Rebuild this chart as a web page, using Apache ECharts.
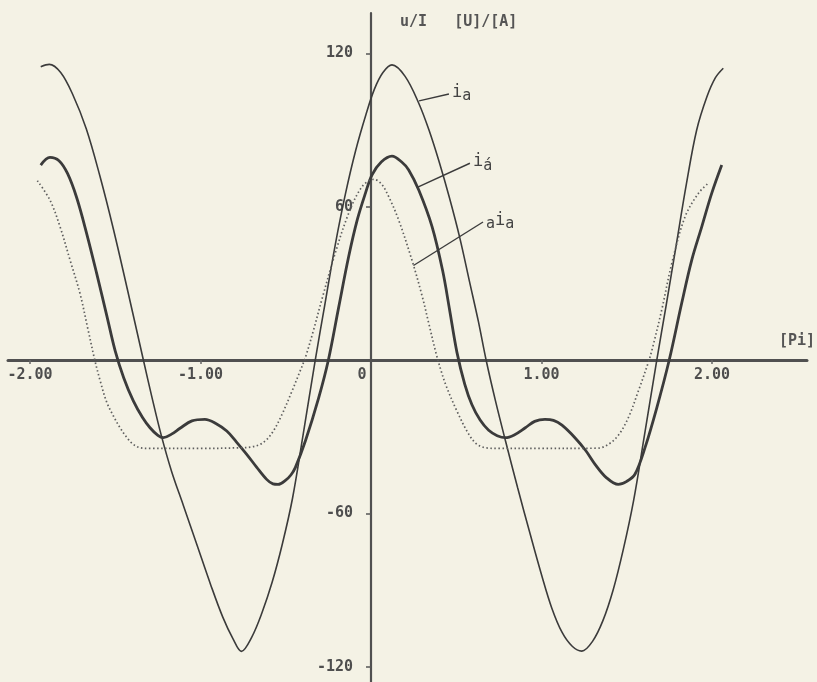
<!DOCTYPE html>
<html>
<head>
<meta charset="utf-8">
<script src="https://cdn.jsdelivr.net/npm/echarts@6/dist/echarts.min.js"></script>
<style>
html, body { margin: 0; padding: 0; background: #f4f2e5; }
#chart { width: 817px; height: 682px; }
</style>
</head>
<body>
<div id="chart"></div>
<script>
// i_a  (thin solid)
var iaX = [-1.937, -1.887, -1.82, -1.75, -1.67, -1.59, -1.51, -1.43, -1.335, -1.285, -1.23, -1.17, -1.10, -1.02, -0.94,
  -0.87, -0.81, -0.76, -0.70, -0.64, -0.58, -0.52, -0.46, -0.40, -0.327, -0.27, -0.21, -0.15, -0.09, -0.03, 0.02, 0.07,
  0.123, 0.20, 0.28, 0.34, 0.40, 0.46, 0.52, 0.58, 0.63, 0.675, 0.73, 0.79, 0.86, 0.935, 1.0, 1.06, 1.12, 1.18, 1.236,
  1.30, 1.36, 1.42, 1.48, 1.54, 1.60, 1.676, 1.73, 1.79, 1.85, 1.91, 1.97, 2.02, 2.066];
var iaY = [114.8, 115.7, 112.5, 104, 90.5, 72, 51, 28, 0, -14.5, -29.5, -43.5, -57, -72.5, -88,
  -100.5, -109, -114, -108.5, -99, -87, -72, -54, -30, 0, 22, 45, 65, 82, 96, 106, 112.5,
  115.5, 111, 100.5, 90, 77.5, 63.5, 48, 30, 15, 0, -16, -32, -50, -68.5, -84, -97, -106.5, -112, -113.9,
  -110, -102, -90, -74, -55, -31, 0, 21, 45, 69, 90, 103, 110.5, 114.2];

// i'_a  (thick solid)
var ipaX = [-1.937, -1.883, -1.83, -1.78, -1.726, -1.668, -1.609, -1.55, -1.50, -1.45, -1.394, -1.34, -1.296, -1.25, -1.218,
  -1.17, -1.12, -1.05, -0.974, -0.91, -0.846, -0.79, -0.729, -0.67, -0.612, -0.575, -0.545, -0.50, -0.47, -0.444,
  -0.385, -0.307, -0.25, -0.19, -0.131, -0.08, -0.033, 0.006, 0.06, 0.123, 0.18, 0.221, 0.28, 0.358, 0.42, 0.46, 0.504,
  0.55, 0.592, 0.64, 0.69, 0.74, 0.788, 0.84, 0.905, 0.96, 1.02, 1.07, 1.12, 1.196, 1.26, 1.314, 1.38, 1.45, 1.50,
  1.548, 1.607, 1.676, 1.749, 1.822, 1.881, 1.94, 1.998, 2.057];
var ipaY = [76.3, 79.3, 78, 73, 63.5, 49.6, 33.9, 17.5, 3.5, -7, -16, -22.5, -26.5, -29.5, -30.4,
  -29, -26.7, -23.8, -23.2, -24.8, -27.8, -32, -36.9, -42, -46.7, -48.5, -48.7, -47, -45, -42.1,
  -31.7, -14.8, 0, 20.5, 40.5, 55, 65.2, 72.5, 77.5, 79.8, 77.5, 74.4, 66.5, 52.2, 35, 20, 3,
  -9.5, -17.5, -23.5, -27.5, -29.6, -30.4, -29.3, -26.5, -24, -23.2, -23.6, -25.5, -30.4, -35.5, -40.8, -46, -48.7, -47.5,
  -44.7, -34.3, -18.7, 0, 22.2, 39.1, 52.2, 65.2, 76.3];

// a i_a  (dotted)
var aiaX = [-1.957, -1.883, -1.824, -1.765, -1.707, -1.66, -1.62, -1.589, -1.55, -1.51, -1.472, -1.43, -1.394, -1.35, -1.3,
  -1.0, -0.75, -0.70, -0.65, -0.61, -0.57, -0.522, -0.463, -0.42, -0.385, -0.34, -0.287, -0.209, -0.131, -0.053, 0.016,
  0.06, 0.104, 0.162, 0.24, 0.3, 0.34, 0.38, 0.41, 0.44, 0.504, 0.573, 0.622, 0.68, 0.75, 1.0, 1.33, 1.392, 1.45,
  1.509, 1.568, 1.626, 1.65, 1.705, 1.764, 1.842, 1.92, 1.978];
var aiaY = [70.2, 62.6, 52.2, 39.1, 26.1, 12, 0, -8, -16.5, -22, -26.5, -30.5, -33, -34.4, -34.6,
  -34.6, -34.3, -34, -33, -31, -27.5, -21.3, -12.1, -5, 1, 11, 24, 42, 57.4, 67.8, 70.7,
  69, 63.9, 54.8, 39.1, 25, 14, 3, -4, -10, -20, -29, -33, -34.4, -34.6, -34.6, -34.5, -33, -29.5,
  -22.6, -12.1, -1, 4.5, 19.6, 37.8, 56.1, 65.2, 69.2];

// leader lines for the curve names
var iaLead = [[0.282, 101.4], [0.457, 104.1]];
var ipaLead = [[0.268, 67.5], [0.58, 77]];
var aiaLead = [[0.249, 37], [0.657, 54]];

var xTicks = [-2, -1, 1, 2];
var xLabelVals = [-2, -1, 0, 1, 2];
var xLabelText = ['-2.00', '-1.00', '0', '1.00', '2.00'];
var yTicks = [-120, -60, 60, 120];
var yLabelText = ['-120', '-60', '60', '120'];

function pairs(xs, ys) {
  return xs.map(function (x, i) { return [x, ys[i]]; });
}

var xMin = -2.129, xMax = 2.557, yMin = -126, yMax = 135.8;
var W = 817, H = 682, gl = 8, gr = 10, gt = 13, gb = 0;
// axes cross at zero, so shift them in from the grid edges
var xAxisOffset = -((0 - yMin) / (yMax - yMin)) * (H - gt - gb);
var yAxisOffset = -((0 - xMin) / (xMax - xMin)) * (W - gl - gr);

var ink = '#3b3b3b';
var mono = 'DejaVu Sans Mono';
var labelFont = { fontFamily: mono, fontSize: 15, fontWeight: 'bold', color: '#4e4e4e' };
var rich = {
  i: { fontFamily: mono, fontSize: 17, color: '#444', verticalAlign: 'top', lineHeight: 20 },
  s: { fontFamily: mono, fontSize: 15, color: '#444', verticalAlign: 'bottom', lineHeight: 20 }
};

function leader(data, text) {
  return {
    type: 'line', data: data, symbol: 'none', silent: true,
    lineStyle: { color: ink, width: 1.4 },
    endLabel: { show: true, formatter: text, distance: 3, rich: rich }
  };
}

var chart = echarts.init(document.getElementById('chart'));
chart.setOption({
  backgroundColor: '#f4f2e5',
  animation: false,
  title: {
    text: 'u/I   [U]/[A]', left: 395, top: 10,
    textStyle: { fontFamily: mono, fontSize: 15, fontWeight: 'bold', color: '#555' }
  },
  graphic: [{
    type: 'text', right: 2, top: 334,
    style: { text: '[Pi]', fontFamily: mono, fontSize: 15, fontWeight: 'bold', fill: '#555' }
  }],
  grid: { left: gl, right: gr, top: gt, bottom: gb, containLabel: false, outerBoundsMode: 'none' },
  xAxis: {
    type: 'value', min: xMin, max: xMax, position: 'bottom', offset: xAxisOffset,
    splitLine: { show: false },
    axisLine: { onZero: false, lineStyle: { color: '#505050', width: 3 } },
    axisTick: { show: true, customValues: xTicks, length: 4, lineStyle: { color: '#666', width: 1.5 } },
    axisLabel: Object.assign({
      customValues: xLabelVals, margin: 8,
      formatter: function (v) {
        var t = xLabelText[xLabelVals.indexOf(v)];
        return v === 0 ? '{z|' + t + '}' : t;
      },
      rich: { z: { padding: [0, 18, 0, 0], fontFamily: mono, fontSize: 15, fontWeight: 'bold', color: '#4e4e4e' } }
    }, labelFont)
  },
  yAxis: {
    type: 'value', min: yMin, max: yMax, position: 'left', offset: yAxisOffset,
    splitLine: { show: false },
    axisLine: { onZero: false, lineStyle: { color: '#505050', width: 2.2 } },
    axisTick: { show: true, customValues: yTicks, length: 5, lineStyle: { color: '#555', width: 1.5 } },
    axisLabel: Object.assign({
      customValues: yTicks, margin: 18,
      formatter: function (v) { return yLabelText[yTicks.indexOf(v)]; }
    }, labelFont)
  },
  series: [
    { name: 'i_a', type: 'line', data: pairs(iaX, iaY), smooth: 0.35, symbol: 'none',
      lineStyle: { color: ink, width: 1.6 } },
    { name: "i'_a", type: 'line', data: pairs(ipaX, ipaY), smooth: 0.35, symbol: 'none',
      lineStyle: { color: ink, width: 2.8 } },
    { name: 'a i_a', type: 'line', data: pairs(aiaX, aiaY), smooth: 0.35, symbol: 'none',
      lineStyle: { color: '#5e5e5e', width: 1.7, type: [1.5, 2.5] } },
    leader(iaLead, '{i|i}{s|a}'),
    leader(ipaLead, '{i|i}{s|á}'),
    leader(aiaLead, '{s|a}{i|i}{s|a}')
  ]
});
</script>
</body>
</html>
